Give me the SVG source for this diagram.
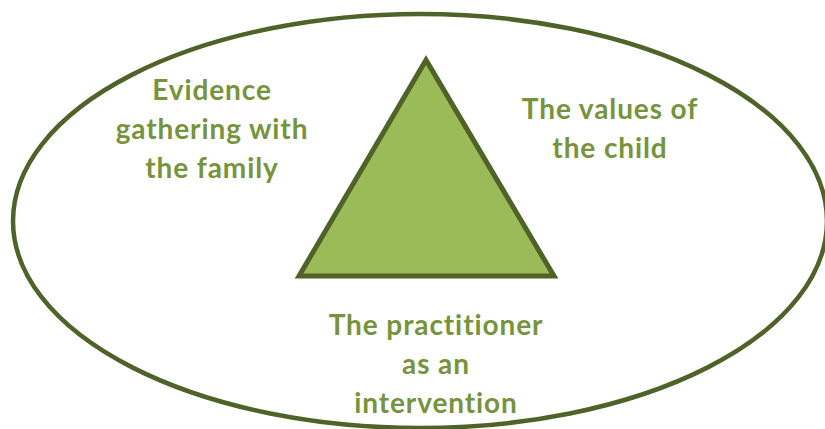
<svg xmlns="http://www.w3.org/2000/svg" width="825" height="429" viewBox="0 0 825 429">
<style>
.lbl{font-family:Lato,"Liberation Sans",sans-serif;font-weight:bold;font-size:28px;letter-spacing:0.9px;fill:#77933C;text-anchor:middle}
</style>
<rect width="825" height="429" fill="#ffffff"/>
<g id="ellipse">
<ellipse cx="420" cy="221" rx="407" ry="207" fill="none" stroke="#4F6228" stroke-width="4.5"/>
</g>
<g id="triangle">
<polygon points="426,60 299,276 554,276" fill="#9BBB59" stroke="#4F6228" stroke-width="5" stroke-linejoin="miter"/>
</g>
<g id="label-evidence">
<text class="lbl" x="212" y="100">Evidence</text>
<text class="lbl" x="212" y="139">gathering with</text>
<text class="lbl" x="212" y="178">the family</text>
</g>
<g id="label-values">
<text class="lbl" x="610" y="119">The values of</text>
<text class="lbl" x="610" y="158">the child</text>
</g>
<g id="label-practitioner">
<text class="lbl" x="436" y="335">The practitioner</text>
<text class="lbl" x="436" y="374">as an</text>
<text class="lbl" x="436" y="413">intervention</text>
</g>
<g id="connectors"></g>
</svg>
